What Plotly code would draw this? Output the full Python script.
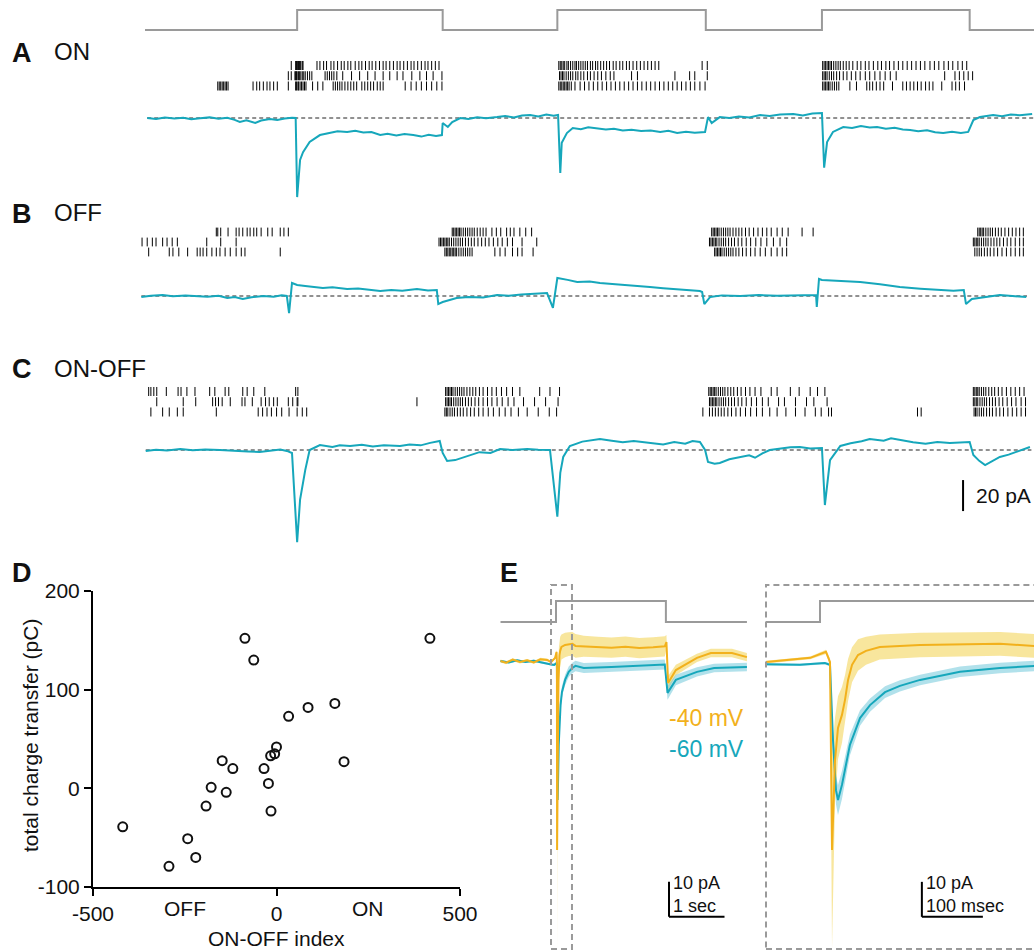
import plotly.graph_objects as go

W, H = 1034, 951
TEAL = "#16A7BB"
ORANGE = "#F2B11C"
YELLOW_BAND = "rgba(242,205,60,0.50)"
TEAL_BAND = "rgba(100,195,215,0.50)"
GRAY = "#9A9A9A"
FONT = "Liberation Sans, Arial, sans-serif"

# ---------------- DATA ----------------
# Panels A-C: time in s, current in pA
stim_t = [0.0, 2.07, 4.05, 5.61, 7.63, 9.21, 11.22, 12.1]
stim_v = [0, 1, 0, 1, 0, 1, 0, 0]

traceA_t = [0.03, 0.15, 0.27, 0.40, 0.52, 0.63, 0.75, 0.88, 1.00, 1.12, 1.22, 1.29, 1.38, 1.50, 1.58, 1.70,
            1.80, 1.90, 2.00, 2.05,
            2.07, 2.11, 2.15, 2.24, 2.38, 2.52, 2.62, 2.75, 2.86, 2.97, 3.08, 3.20, 3.30, 3.42, 3.53, 3.65,
            3.76, 3.86, 3.96, 4.04,
            4.05, 4.12, 4.18, 4.29, 4.40, 4.52, 4.64, 4.79, 4.90, 5.02, 5.13, 5.24, 5.35, 5.46, 5.56, 5.62,
            5.65, 5.67, 5.74, 5.82, 5.93, 6.03, 6.15, 6.27, 6.38, 6.50, 6.62, 6.75, 6.88, 7.01, 7.12, 7.24,
            7.36, 7.48, 7.62,
            7.66, 7.71, 7.82, 7.95, 8.08, 8.22, 8.37, 8.50, 8.64, 8.82, 8.95, 9.08, 9.21,
            9.24, 9.28, 9.36, 9.50, 9.62, 9.74, 9.86, 9.96, 10.08, 10.20, 10.31, 10.41, 10.52, 10.64, 10.75,
            10.86, 10.98, 11.10, 11.20,
            11.27, 11.36, 11.45, 11.54, 11.66, 11.78, 11.90, 12.07]
traceA_i = [0.0, -0.6, 0.3, -0.3, 0.2, -0.8, -0.2, 0.4, -0.5, 0.1, -1.2, -2.6, -1.5, -3.2, -1.6, -0.6,
            -1.3, -0.3, 0.2, 0.0,
            -51.0, -27.0, -22.0, -15.5, -11.0, -9.7, -8.6, -9.0, -8.2, -9.3, -9.0, -11.0, -10.2, -11.3, -10.4,
            -11.0, -12.0, -10.8, -11.6, -11.0,
            -3.2, -5.8, -2.6, 0.0, -0.6, 0.5, -0.2, 0.6, 1.3, 0.4, 1.6, 1.9, 1.0, 2.2, 1.4, 1.9,
            -35.5, -16.0, -9.7, -6.5, -7.2, -6.0, -6.8, -7.4, -6.9, -8.1, -7.6, -8.4, -8.0, -9.0, -8.2, -9.7,
            -8.8, -9.5, -9.0,
            0.6, -3.2, 0.6, 0.0, 1.0, 0.4, 1.9, 1.3, 2.3, 2.6, 1.6, 2.9, 3.2,
            -32.0, -15.5, -9.0, -5.8, -6.4, -5.2, -6.1, -5.8, -6.9, -6.3, -7.4, -7.7, -8.6, -7.9, -9.2,
            -9.7, -8.8, -9.6, -9.0,
            -1.3, 0.6, 1.3, 1.9, 1.2, 2.3, 1.8, 2.6]

traceB_t = [-0.05, 0.08, 0.24, 0.38, 0.55, 0.71, 0.85, 1.00, 1.12, 1.22, 1.33, 1.45, 1.61, 1.75, 1.86, 1.93,
            1.96, 2.00, 2.07, 2.18, 2.29, 2.42, 2.55, 2.75, 2.90, 3.05, 3.20, 3.35, 3.50, 3.70, 3.85, 3.97,
            3.99, 4.05, 4.24, 4.40, 4.60, 4.79, 4.95, 5.12, 5.30, 5.47,
            5.55, 5.61, 5.75, 5.88, 6.05, 6.19, 6.40, 6.60, 6.87, 7.05, 7.25, 7.40, 7.55, 7.58,
            7.61, 7.69, 7.85, 8.10, 8.35, 8.60, 8.91, 9.13,
            9.14, 9.17, 9.21, 9.45, 9.73, 10.00, 10.27, 10.55, 10.82, 11.00, 11.14,
            11.17, 11.25, 11.43, 11.63, 11.80, 11.99]
traceB_i = [-0.6, 0.2, 0.6, -0.1, 0.4, 0.0, -0.5, 0.2, -1.3, -0.6, -1.9, -0.8, 0.0, -0.5, 0.4, 0.0,
            -11.0, 8.4, 7.1, 6.5, 5.8, 5.2, 5.6, 4.5, 4.9, 3.9, 3.2, 3.8, 3.4, 4.5, 3.6, 3.9,
            -5.2, -3.9, -1.3, -0.6, -0.9, 0.6, 0.1, 1.0, 1.3, 1.9,
            -7.7, 11.6, 10.4, 9.0, 9.4, 8.4, 7.6, 7.0, 5.8, 5.0, 4.4, 3.8, 3.2, 2.6,
            -5.2, -0.6, 0.4, 0.0, 0.6, 0.2, 0.6, 0.6,
            -7.1, 11.0, 10.3, 9.8, 9.0, 7.6, 5.8, 4.7, 3.9, 3.4, 3.9,
            -5.2, -1.9, -0.6, 0.6, 0.0, -0.6]

traceC_t = [0.01, 0.15, 0.30, 0.48, 0.65, 0.82, 1.02, 1.20, 1.40, 1.56, 1.70, 1.84, 1.93, 2.00,
            2.07, 2.11, 2.18, 2.24, 2.38, 2.55, 2.65, 2.79, 2.95, 3.10, 3.25, 3.47, 3.60, 3.75, 3.88, 4.01,
            4.05, 4.11, 4.22, 4.32, 4.42, 4.55, 4.70, 4.83, 5.00, 5.20, 5.35, 5.51,
            5.61, 5.65, 5.69, 5.78, 5.95, 6.05, 6.19, 6.35, 6.50, 6.65, 6.87, 7.05, 7.20, 7.35, 7.45, 7.55,
            7.62, 7.66, 7.75, 7.82, 7.95, 8.10, 8.22, 8.30, 8.40, 8.50, 8.65, 8.78, 8.91, 9.05, 9.21,
            9.25, 9.32, 9.46, 9.60, 9.75, 9.86, 10.05, 10.15, 10.27, 10.45, 10.62, 10.78, 10.95, 11.10, 11.22,
            11.27, 11.35, 11.43, 11.52, 11.63, 11.75, 11.88, 12.04]
traceC_i = [-0.6, 0.2, -0.3, 0.6, -0.2, 0.4, 0.0, -0.6, -0.9, -1.3, -0.4, 0.3, -0.6, -1.9,
            -59.4, -32.0, -13.0, 0.0, 3.2, 2.0, 3.0, 2.6, 3.4, 2.2, 3.0, 2.6, 3.6, 3.0, 4.6, 5.8,
            -1.9, -7.1, -6.5, -5.0, -3.2, -1.4, -1.9, 0.6, 0.0, 0.6, 0.2, 0.0,
            -43.0, -14.8, -4.5, 2.6, 5.4, 6.2, 7.1, 6.0, 5.0, 5.8, 4.5, 3.6, 5.2, 4.0, 5.8, 5.2,
            0.0, -7.7, -8.8, -8.4, -6.0, -4.5, -3.4, -5.0, -2.2, 0.0, 0.8, 1.7, 1.9, 1.0, 1.3,
            -35.5, -6.5, 2.6, 4.4, 5.6, 7.1, 6.0, 7.6, 6.5, 5.0, 4.0, 5.2, 4.5, 4.8, 5.2,
            -3.2, -7.0, -9.7, -7.4, -4.5, -3.0, -0.6, 1.9]

baseA_t = [0.03, 12.1]
baseB_t = [-0.05, 12.0]
baseC_t = [0.01, 12.06]

# spike times (s), three rows per cell
rasterA = [
    [1.99, 2.05, 2.06, 2.07, 2.08, 2.09, 2.10, 2.11, 2.12, 2.14, 2.15, 2.34, 2.38, 2.43, 2.47, 2.53, 2.57,
     2.62, 2.67, 2.71, 2.76, 2.80, 2.86, 2.91, 2.95, 3.00, 3.05, 3.09, 3.14, 3.19, 3.24, 3.28, 3.33, 3.38,
     3.43, 3.47, 3.52, 3.57, 3.62, 3.66, 3.71, 3.76, 3.81, 3.85, 3.90, 3.95, 4.00,
     5.63, 5.65, 5.67, 5.69, 5.71, 5.74, 5.76, 5.79, 5.82, 5.85, 5.87, 5.90, 5.93, 5.96, 5.99, 6.02, 6.06,
     6.09, 6.13, 6.16, 6.20, 6.24, 6.28, 6.32, 6.37, 6.41, 6.46, 6.50, 6.55, 6.59, 6.64, 6.69, 6.74, 6.79,
     6.84, 6.89, 6.94, 6.99, 7.58, 7.65,
     9.22, 9.24, 9.26, 9.28, 9.30, 9.32, 9.34, 9.37, 9.40, 9.43, 9.46, 9.50, 9.54, 9.58, 9.63, 9.69, 9.74,
     9.80, 9.85, 9.91, 9.97, 10.02, 10.08, 10.13, 10.19, 10.25, 10.31, 10.37, 10.43, 10.49, 10.55, 10.61,
     10.68, 10.74, 10.80, 10.87, 10.93, 10.99, 11.06, 11.12, 11.18],
    [1.95, 1.99, 2.04, 2.05, 2.06, 2.07, 2.09, 2.10, 2.12, 2.14, 2.16, 2.18, 2.21, 2.24, 2.27, 2.45, 2.48,
     2.51, 2.54, 2.57, 2.61, 2.69, 2.81, 2.92, 3.03, 3.13, 3.24, 3.33, 3.43, 3.51, 3.63, 3.74, 3.83, 3.92,
     4.04,
     5.64, 5.66, 5.68, 5.70, 5.73, 5.76, 5.79, 5.82, 5.86, 5.89, 5.93, 5.97, 6.02, 6.06, 6.11, 6.16, 6.21,
     6.27, 6.33, 6.38, 6.62, 6.70, 7.21, 7.41, 7.48, 7.65,
     9.22, 9.24, 9.26, 9.28, 9.31, 9.34, 9.37, 9.41, 9.45, 9.50, 9.55, 9.61, 9.67, 9.73, 9.80, 9.86, 9.93,
     10.00, 10.07, 10.14, 10.22, 10.88, 11.02, 11.08, 11.14, 11.20, 11.26],
    [0.99, 1.01, 1.03, 1.05, 1.07, 1.09, 1.11, 1.13, 1.47, 1.52, 1.56, 1.61, 1.66, 1.70, 1.75, 1.80, 1.95,
     2.05, 2.06, 2.08, 2.09, 2.11, 2.13, 2.15, 2.17, 2.19, 2.28, 2.35, 2.42, 2.56, 2.59, 2.62, 2.65, 2.68,
     2.72, 2.76, 2.80, 2.84, 2.88, 2.95, 2.99, 3.03, 3.07, 3.11, 3.16, 3.20, 3.24, 3.54, 3.62, 3.69, 3.76,
     3.83, 3.90, 3.97, 4.04,
     5.63, 5.65, 5.67, 5.69, 5.71, 5.73, 5.75, 5.77, 5.80, 5.85, 5.92, 5.98, 6.04, 6.10, 6.16, 6.22, 6.28,
     6.34, 6.40, 6.46, 6.52, 6.58, 6.64, 6.70, 6.76, 6.82, 6.88, 6.94, 7.00, 7.06, 7.12, 7.18, 7.24, 7.30,
     7.36, 7.42, 7.48, 7.55, 7.62,
     9.22, 9.24, 9.26, 9.28, 9.30, 9.32, 9.35, 9.38, 9.41, 9.44, 9.59, 9.68, 9.82, 9.86, 9.90, 9.95, 10.00,
     10.05, 10.17, 10.31, 10.36, 10.41, 10.46, 10.51, 10.56, 10.62, 10.67, 10.72, 10.84, 10.98, 11.03,
     11.08, 11.15],
]

rasterB = [
    [0.97, 0.99, 1.03, 1.13, 1.24, 1.28, 1.33, 1.39, 1.43, 1.48, 1.52, 1.58, 1.67, 1.73, 1.84, 1.89, 1.95,
     4.18, 4.20, 4.22, 4.24, 4.26, 4.28, 4.30, 4.33, 4.36, 4.39, 4.42, 4.45, 4.48, 4.52, 4.56, 4.60, 4.64,
     4.72, 4.78, 4.84, 4.92, 4.97, 5.02, 5.10, 5.18, 5.26,
     7.71, 7.73, 7.75, 7.77, 7.79, 7.81, 7.84, 7.87, 7.90, 7.93, 7.96, 8.00, 8.04, 8.08, 8.12, 8.17, 8.22,
     8.28, 8.34, 8.40, 8.46, 8.52, 8.60, 8.67, 8.75, 8.94, 9.09,
     11.33, 11.35, 11.37, 11.39, 11.41, 11.44, 11.47, 11.50, 11.53, 11.57, 11.61, 11.65, 11.70, 11.75,
     11.80, 11.85, 11.90, 11.95],
    [-0.04, 0.03, 0.10, 0.15, 0.24, 0.30, 0.37, 0.44, 0.84, 1.03, 1.24,
     4.00, 4.02, 4.04, 4.06, 4.08, 4.10, 4.12, 4.14, 4.17, 4.20, 4.23, 4.26, 4.29, 4.32, 4.36, 4.40, 4.44,
     4.48, 4.53, 4.58, 4.63, 4.68, 4.74, 4.80, 4.86, 4.93, 5.00, 5.13, 5.33,
     7.68, 7.70, 7.72, 7.74, 7.76, 7.78, 7.81, 7.84, 7.87, 7.90, 7.94, 7.98, 8.02, 8.07, 8.12, 8.18, 8.24,
     8.31, 8.38, 8.46, 8.55, 8.64, 8.73,
     11.27, 11.29, 11.31, 11.33, 11.35, 11.38, 11.41, 11.44, 11.47, 11.51, 11.55, 11.59, 11.63, 11.68,
     11.73, 11.78, 11.84, 11.90, 11.95],
    [0.05, 0.33, 0.38, 0.46, 0.58, 0.71, 0.75, 0.79, 0.84, 0.91, 0.97, 1.02, 1.09, 1.16, 1.24, 1.31, 1.36,
     1.84,
     4.08, 4.10, 4.12, 4.14, 4.16, 4.18, 4.20, 4.22, 4.24, 4.27, 4.30, 4.33, 4.36, 4.39, 4.42, 4.45, 4.76,
     4.83, 4.90, 5.00, 5.07, 5.13, 5.28,
     7.75, 7.77, 7.79, 7.81, 7.83, 7.85, 7.88, 7.91, 7.94, 7.97, 8.00, 8.04, 8.08, 8.13, 8.18, 8.24, 8.30,
     8.37, 8.44, 8.52, 8.60, 8.67, 8.73,
     11.29, 11.32, 11.35, 11.38, 11.42, 11.46, 11.50, 11.55, 11.60, 11.66, 11.72, 11.78, 11.84, 11.90,
     11.95],
]

rasterC = [
    [0.05, 0.08, 0.12, 0.16, 0.29, 0.45, 0.49, 0.57, 0.68, 0.88, 0.95, 1.09, 1.14, 1.33, 1.39, 1.48, 1.63,
     2.05, 2.08,
     4.09, 4.11, 4.13, 4.15, 4.17, 4.19, 4.22, 4.25, 4.28, 4.31, 4.34, 4.38, 4.42, 4.46, 4.50, 4.55, 4.60,
     4.66, 4.72, 4.78, 4.85, 4.92, 5.00, 5.10, 5.37, 5.51, 5.64,
     7.67, 7.69, 7.71, 7.73, 7.75, 7.77, 7.80, 7.83, 7.86, 7.89, 7.93, 7.97, 8.01, 8.06, 8.11, 8.17, 8.23,
     8.30, 8.38, 8.52, 8.60, 8.78, 8.90, 9.05, 9.15, 9.25,
     11.27, 11.29, 11.31, 11.33, 11.35, 11.38, 11.41, 11.44, 11.48, 11.52, 11.56, 11.61, 11.66, 11.72,
     11.78, 11.84, 11.90, 11.96],
    [0.16, 0.52, 0.69, 0.92, 0.96, 1.00, 1.05, 1.16, 1.32, 1.36, 1.46, 1.58, 1.64, 1.69, 1.75, 1.80, 1.95,
     2.01, 2.07, 2.08, 3.70,
     4.09, 4.11, 4.13, 4.15, 4.17, 4.20, 4.23, 4.26, 4.29, 4.32, 4.36, 4.40, 4.44, 4.49, 4.54, 4.60, 4.66,
     4.72, 4.79, 4.86, 4.94, 5.02, 5.15, 5.30, 5.45, 5.62,
     7.68, 7.70, 7.72, 7.74, 7.76, 7.78, 7.81, 7.84, 7.87, 7.90, 7.94, 7.98, 8.02, 8.07, 8.12, 8.18, 8.25,
     8.32, 8.40, 8.48, 8.62, 8.70, 8.85, 9.00, 9.10, 9.28,
     11.27, 11.29, 11.31, 11.33, 11.36, 11.39, 11.42, 11.45, 11.49, 11.53, 11.57, 11.62, 11.67, 11.73,
     11.79, 11.85, 11.92, 11.98],
    [0.08, 0.24, 0.33, 0.44, 0.52, 0.97, 1.54, 1.60, 1.66, 1.72, 1.79, 1.86, 1.96, 2.07, 2.14, 2.20,
     4.08, 4.10, 4.12, 4.15, 4.18, 4.21, 4.25, 4.29, 4.33, 4.38, 4.43, 4.48, 4.54, 4.60, 4.67, 4.74, 4.82,
     4.90, 4.98, 5.08, 5.20, 5.35, 5.50, 5.60,
     7.59, 7.68, 7.72, 7.76, 7.80, 7.84, 7.88, 7.93, 7.98, 8.04, 8.10, 8.17, 8.24, 8.32, 8.40, 8.50, 8.60,
     8.72, 8.85, 8.98, 9.12, 9.20, 9.30, 9.34, 10.51, 10.56,
     11.28, 11.30, 11.32, 11.35, 11.38, 11.41, 11.45, 11.49, 11.53, 11.58, 11.63, 11.68, 11.74, 11.80,
     11.86, 11.92, 11.98],
]

# Panel D
onoff_index = [-86, -62, 418, 33, 86, 159, 184, 0, -16, -5, -34, -22, -15, -148, -119, -178, -137, -192,
               -242, -220, -293, -419]
charge_pC = [152, 130, 152, 73, 82, 86, 27, 42, 33, 35, 20, 5, -23, 28, 20, 1, -4, -18, -51, -70, -79, -39]
d_xticks = [-500, 0, 500]
d_yticks = [-100, 0, 100, 200]

# Panel E (time s from light onset, pA), mean and spread
stimE_t = [-1.0, 0.0, 1.98, 3.44]
stimE_v = [0, 1, 0, 0]

e40_t = [-1.00, -0.90, -0.78, -0.65, -0.52, -0.40, -0.28, -0.16, -0.0885, -0.049, -0.016, 0.0098, 0.0131,
         0.0164, 0.0197, 0.0246, 0.0295, 0.036, 0.041, 0.046, 0.0525, 0.0623, 0.0754, 0.098, 0.164, 0.230,
         0.295, 0.351, 0.50, 0.75, 1.00, 1.25, 1.50, 1.75, 1.96, 1.99, 2.02, 2.16, 2.54, 2.79, 3.17, 3.44]
e40_i = [0.0, -0.5, 0.4, -0.3, 0.2, -0.4, 0.5, 0.3, -0.3, 0.3, 0.9, 2.6, 1.1, -0.3, -54.0, -28.3, -19.1,
         -15.4, -11.1, -5.4, -1.1, 1.7, 2.9, 4.0, 4.6, 4.8, 4.9, 4.3, 4.2, 4.0, 3.8, 4.1, 3.7, 3.9, 4.2, 5.4,
         -6.3, -2.6, 0.9, 2.3, 2.3, 1.1]
e40_sd = [0.4, 0.4, 0.4, 0.4, 0.4, 0.4, 0.4, 0.4, 0.4, 0.4, 0.4, 0.6, 0.6, 1.0, 28.0, 12.0, 9.0, 8.0, 7.0,
          6.0, 5.0, 4.5, 4.0, 3.6, 3.5, 3.4, 3.4, 3.4, 3.0, 2.9, 2.9, 2.9, 2.9, 2.9, 2.9, 2.0, 2.0, 1.5, 1.2,
          1.2, 1.2, 1.2]

e60_t = [-1.00, -0.85, -0.70, -0.55, -0.40, -0.25, -0.0885, -0.033, 0.008, 0.0164, 0.0213, 0.0262, 0.0295,
         0.036, 0.049, 0.0656, 0.082, 0.1066, 0.131, 0.164, 0.2295, 0.295, 0.351, 0.50, 1.00, 1.50, 1.96,
         2.01, 2.16, 2.54, 2.85, 3.44]
e60_i = [0.0, -0.4, 0.2, -0.3, 0.1, -0.5, -1.0, -1.1, -0.6, -1.1, -22.6, -36.9, -39.7, -35.4, -24.0, -16.3,
         -12.6, -8.9, -7.1, -5.4, -3.1, -2.0, -1.4, -2.0, -1.7, -1.3, -1.0, -9.1, -5.4, -3.1, -2.0, -1.7]
e60_sd = [0.3, 0.3, 0.3, 0.3, 0.3, 0.3, 0.3, 0.3, 0.3, 0.5, 3.0, 4.0, 4.3, 4.0, 3.0, 2.2, 1.9, 1.7, 1.6,
          1.5, 1.5, 1.5, 1.5, 1.4, 1.4, 1.4, 1.4, 2.0, 1.5, 1.3, 1.2, 1.2]

# ---------------- LAYOUT HELPERS ----------------
def xdom(l, r):
    return [l / W, r / W]

def ydom(t, b):
    return [1 - b / H, 1 - t / H]

def xrng(l, r, ref_px, ref_val, ppu):
    return [ref_val - (ref_px - l) / ppu, ref_val + (r - ref_px) / ppu]

def yrng(t, b, ref_px, ref_val, ppu):
    return [ref_val - (b - ref_px) / ppu, ref_val + (ref_px - t) / ppu]

def yrng_rows(t, b, row1_px, ppu):
    # row numbers increase downward
    return [1 + (b - row1_px) / ppu, 1 - (row1_px - t) / ppu]

HID = dict(visible=False, showgrid=False, zeroline=False, fixedrange=True, automargin=False)

fig = go.Figure()

def line(x, y, xa, ya, color, width=2, dash=None, shape='linear'):
    fig.add_trace(go.Scatter(x=x, y=y, mode='lines', xaxis=xa, yaxis=ya, hoverinfo='skip',
                             line=dict(color=color, width=width, dash=dash, shape=shape),
                             showlegend=False))

def raster(rows, ya):
    xs, ys = [], []
    for i, row in enumerate(rows, start=1):
        for s in row:
            xs += [s, s, None]
            ys += [i - 0.44, i + 0.44, None]
    fig.add_trace(go.Scatter(x=xs, y=ys, mode='lines', xaxis='x', yaxis=ya, hoverinfo='skip',
                             line=dict(color='black', width=1), showlegend=False, connectgaps=False))

def band(t, m, sd, xa, ya, color):
    up = [a + b for a, b in zip(m, sd)]
    lo = [a - b for a, b in zip(m, sd)]
    fig.add_trace(go.Scatter(x=list(t) + list(t)[::-1], y=up + lo[::-1], mode='lines', fill='toself',
                             fillcolor=color, line=dict(width=0), xaxis=xa, yaxis=ya,
                             hoverinfo='skip', showlegend=False))

# ---- Panels A-C ----
line(stim_t, stim_v, 'x', 'y', GRAY, 2, shape='hv')
raster(rasterA, 'y2')
line(baseA_t, [0, 0], 'x', 'y3', '#222222', 1, dash='4px,3px')
line(traceA_t, traceA_i, 'x', 'y3', TEAL, 2)
raster(rasterB, 'y4')
line(baseB_t, [0, 0], 'x', 'y5', '#222222', 1, dash='4px,3px')
line(traceB_t, traceB_i, 'x', 'y5', TEAL, 2)
raster(rasterC, 'y6')
line(baseC_t, [0, 0], 'x', 'y7', '#222222', 1, dash='4px,3px')
line(traceC_t, traceC_i, 'x', 'y7', TEAL, 2)

# ---- Panel D ----
fig.add_trace(go.Scatter(x=onoff_index, y=charge_pC, mode='markers', xaxis='x2', yaxis='y8',
                         marker=dict(symbol='circle-open', size=9, color='#111111', line=dict(width=2)),
                         cliponaxis=False, hoverinfo='skip', showlegend=False))

# ---- Panel E ----
for xa, ya, sa in [('x3', 'y9', 'y10'), ('x4', 'y11', 'y12')]:
    line(stimE_t, stimE_v, xa, sa, GRAY, 2, shape='hv')
    band(e40_t, e40_i, e40_sd, xa, ya, YELLOW_BAND)
    band(e60_t, e60_i, e60_sd, xa, ya, TEAL_BAND)
    line(e60_t, e60_i, xa, ya, TEAL, 2)
    line(e40_t, e40_i, xa, ya, ORANGE, 2)

layout = dict(
    width=W, height=H, margin=dict(l=0, r=0, t=0, b=0, pad=0, autoexpand=False), autosize=False,
    paper_bgcolor='white', plot_bgcolor='rgba(0,0,0,0)', showlegend=False,
    font=dict(family=FONT, color='#111111'),
)
layout['xaxis'] = dict(HID, domain=xdom(138, 1034), range=xrng(138, 1034, 145, 0, 73.5), anchor='y')
layout['yaxis'] = dict(HID, domain=ydom(0, 40), range=yrng(0, 40, 30, 0, 20), anchor='x')
layout['yaxis2'] = dict(HID, domain=ydom(55, 96), range=yrng_rows(55, 96, 65.5, 10.25), anchor='x')
layout['yaxis3'] = dict(HID, domain=ydom(98, 212), range=yrng(98, 212, 118, 0, 1.55), anchor='x')
layout['yaxis4'] = dict(HID, domain=ydom(221, 262), range=yrng_rows(221, 262, 232, 10.0), anchor='x')
layout['yaxis5'] = dict(HID, domain=ydom(265, 335), range=yrng(265, 335, 296, 0, 1.55), anchor='x')
layout['yaxis6'] = dict(HID, domain=ydom(380, 422), range=yrng_rows(380, 422, 391.5, 10.25), anchor='x')
layout['yaxis7'] = dict(HID, domain=ydom(425, 560), range=yrng(425, 560, 450, 0, 1.55), anchor='x')

axis_d = dict(showline=True, linecolor='black', linewidth=2, ticks='outside', ticklen=7, tickwidth=2,
              tickcolor='black', showgrid=False, zeroline=False, fixedrange=True, automargin=False,
              tickfont=dict(family=FONT, size=21, color='#111111'))
layout['xaxis2'] = dict(axis_d, domain=xdom(93, 460), range=[-500, 500], tickvals=d_xticks,
                        ticktext=[str(v) for v in d_xticks], anchor='y8')
layout['yaxis8'] = dict(axis_d, domain=ydom(591, 887), range=[-100, 200], tickvals=d_yticks,
                        ticktext=[str(v) for v in d_yticks], anchor='x2')

layout['xaxis3'] = dict(HID, domain=xdom(500, 748), range=xrng(500, 748, 556, 0, 55.5), anchor='y9')
layout['yaxis9'] = dict(HID, domain=ydom(585, 951), range=yrng(585, 951, 661, 0, 3.5), anchor='x3')
layout['yaxis10'] = dict(HID, domain=ydom(585, 951), range=yrng(585, 951, 622, 0, 21), anchor='x3',
                         overlaying='y9')
layout['xaxis4'] = dict(HID, domain=xdom(766, 1034), range=xrng(766, 1034, 820, 0, 610), anchor='y11')
layout['yaxis11'] = dict(HID, domain=ydom(585, 951), range=yrng(585, 951, 661, 0, 3.5), anchor='x4')
layout['yaxis12'] = dict(HID, domain=ydom(585, 951), range=yrng(585, 951, 622, 0, 21), anchor='x4',
                         overlaying='y11')

fig.update_layout(**layout)

# ---- scale bars & boxes (in data units) ----
def seg(xref, yref, x0, y0, x1, y1, color='black', width=2, dash=None):
    fig.add_shape(type='line', xref=xref, yref=yref, x0=x0, y0=y0, x1=x1, y1=y1,
                  line=dict(color=color, width=width, dash=dash))

seg('x', 'y7', 11.13, -19.4, 11.13, -39.4)            # 20 pA
seg('x3', 'y9', 2.036, -63.1, 2.036, -73.1)           # 10 pA
seg('x3', 'y9', 2.036, -73.1, 3.036, -73.1)           # 1 s
seg('x4', 'y11', 0.167, -63.1, 0.167, -73.1)          # 10 pA
seg('x4', 'y11', 0.167, -73.1, 0.267, -73.1)          # 100 ms

fig.add_shape(type='rect', xref='x3', yref='paper', x0=-0.09, x1=0.288, y0=1 - 949 / H, y1=1 - 585 / H,
              line=dict(color=GRAY, width=2, dash='6px,4px'), fillcolor='rgba(0,0,0,0)')
fig.add_shape(type='rect', xref='paper', yref='paper', x0=766 / W, x1=1.05, y0=1 - 949 / H, y1=1 - 585 / H,
              line=dict(color=GRAY, width=2, dash='6px,4px'), fillcolor='rgba(0,0,0,0)')

# ---- text ----
def ann(text, xp, yp, size=21, color='#111111', xanchor='left', angle=0, align='left'):
    fig.add_annotation(text=text, x=xp / W, y=1 - yp / H, xref='paper', yref='paper', showarrow=False,
                       xanchor=xanchor, yanchor='middle', textangle=angle, align=align,
                       font=dict(family=FONT, size=size, color=color))

for letter, y in [('A', 53), ('B', 214), ('C', 369), ('D', 573)]:
    ann('<b>%s</b>' % letter, 10, y, size=27)
ann('<b>E</b>', 498, 573, size=27)
ann('ON', 52, 52, size=24)
ann('OFF', 52, 213, size=24)
ann('ON-OFF', 52, 368, size=24)
ann('20 pA', 974, 495, size=21)
ann('ON-OFF index', 276, 938, size=21, xanchor='center')
ann('total charge transfer (pC)', 30, 736, size=21, xanchor='center', angle=-90)
fig.add_annotation(text='OFF', x=-250, y=1 - 908 / H, xref='x2', yref='paper', showarrow=False,
                   yanchor='middle', font=dict(family=FONT, size=21, color='#111111'))
fig.add_annotation(text='ON', x=250, y=1 - 908 / H, xref='x2', yref='paper', showarrow=False,
                   yanchor='middle', font=dict(family=FONT, size=21, color='#111111'))
ann('-40 mV', 746, 718, size=23, color=ORANGE, xanchor='right')
ann('-60 mV', 746, 749, size=23, color=TEAL, xanchor='right')
ann('10 pA<br>1 sec', 671, 894, size=18)
ann('10 pA<br>100 msec', 924, 894, size=18)

fig.write_html('out.html', config={'displayModeBar': False},
               post_script="document.body.style.margin='0';document.body.style.padding='0';"
                           "document.documentElement.style.overflow='hidden';")
